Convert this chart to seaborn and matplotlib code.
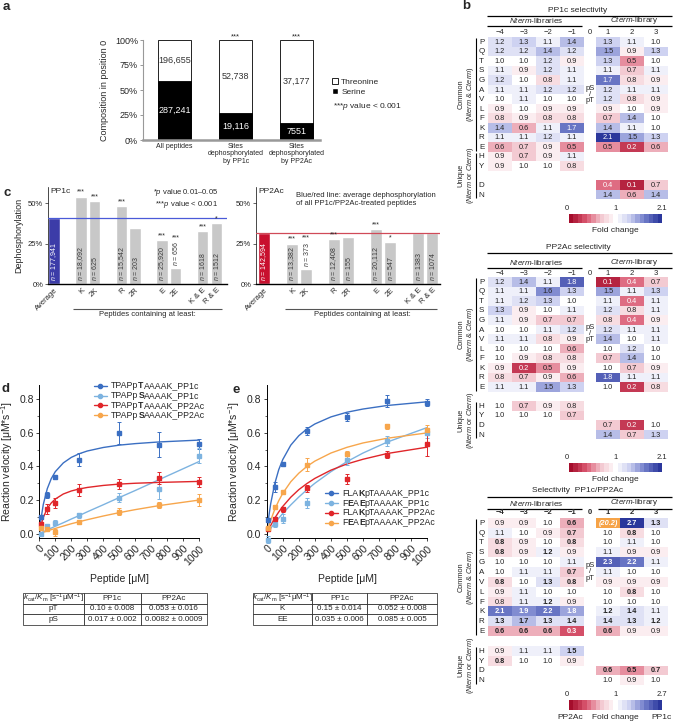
import numpy as np
import pandas as pd
import matplotlib
matplotlib.use('Agg')
import matplotlib.pyplot as plt
import seaborn as sns
from matplotlib.colors import LinearSegmentedColormap, TwoSlopeNorm
from matplotlib.lines import Line2D
from matplotlib.patches import Patch
from matplotlib.cm import ScalarMappable
from matplotlib.offsetbox import TextArea, HPacker, VPacker, DrawingArea, AnchoredOffsetbox

# ---------------- data: panel a ----------------
comp_groups = ['All peptides', 'Sites\ndephosphorylated\nby PP1c', 'Sites\ndephosphorylated\nby PP2Ac']
comp_thr = [196655, 52738, 37177]
comp_ser = [287241, 19116, 7551]
comp_sig = ['', '***', '***']

# ---------------- data: panel c ----------------
c_labels = ['Average', 'K', '2K', 'R', '2R', 'E', '2E', 'K & E', 'R & E']
c_pp1c = [40.7, 53.9, 51.4, 48.3, 34.8, 27.2, 9.7, 32.9, 37.5]
c_pp2ac = [31.3, 25.0, 9.5, 27.5, 29.0, 34.0, 26.0, 31.5, 31.5]
c_n_pp1c = ['177,941', '18,092', '625', '15,542', '203', '25,920', '656', '1618', '1512']
c_n_pp2ac = ['142,594', '13,382', '373', '12,408', '155', '20,112', '547', '1383', '1074']
c_sig_pp1c = ['', '***', '***', '***', '', '***', '***', '***', '*']
c_sig_pp2ac = ['', '***', '***', '***', '', '***', '*', '', '']

# ---------------- data: panels d / e ----------------
conc = [10, 50, 100, 250, 500, 750, 1000]
fit_conc = [0, 10, 25, 50, 75, 100, 150, 200, 250, 300, 400, 500, 600, 750, 1000]

d_pT_pp1c = [0.10, 0.23, 0.34, 0.44, 0.60, 0.53, 0.535]
d_pT_pp1c_err = [0.01, 0.015, 0.005, 0.04, 0.065, 0.075, 0.03]
d_pS_pp1c = [0.0, 0.045, 0.065, 0.11, 0.215, 0.265, 0.465]
d_pS_pp1c_err = [0.005, 0.015, 0.015, 0.015, 0.025, 0.06, 0.045]
d_pT_pp2ac = [0.055, 0.145, 0.185, 0.26, 0.295, 0.33, 0.305]
d_pT_pp2ac_err = [0.015, 0.03, 0.03, 0.035, 0.03, 0.035, 0.03]
d_pS_pp2ac = [0.035, 0.025, 0.008, 0.07, 0.13, 0.17, 0.20]
d_pS_pp2ac_err = [0.01, 0.01, 0.02, 0.01, 0.02, 0.02, 0.035]
d_fit_pT_pp1c = [0.0, 0.084, 0.174, 0.268, 0.328, 0.369, 0.421, 0.454, 0.476, 0.492, 0.513, 0.527, 0.536, 0.546, 0.557]
d_fit_pS_pp1c = [0.0, 0.004, 0.011, 0.022, 0.033, 0.044, 0.065, 0.087, 0.108, 0.13, 0.172, 0.215, 0.257, 0.322, 0.43]
d_fit_pT_pp2ac = [0.0, 0.047, 0.097, 0.150, 0.183, 0.206, 0.236, 0.254, 0.266, 0.275, 0.287, 0.295, 0.300, 0.305, 0.311]
d_fit_pS_pp2ac = [0.0, 0.003, 0.008, 0.016, 0.024, 0.031, 0.045, 0.059, 0.071, 0.083, 0.105, 0.125, 0.143, 0.167, 0.20]

e_K_pp1c = [0.08, 0.28, 0.415, 0.61, 0.695, 0.79, 0.78]
e_K_pp1c_err = [0.01, 0.03, 0.01, 0.025, 0.025, 0.035, 0.02]
e_EE_pp1c = [-0.035, 0.057, 0.09, 0.185, 0.44, 0.55, 0.60]
e_EE_pp1c_err = [0.02, 0.02, 0.025, 0.03, 0.03, 0.03, 0.03]
e_K_pp2ac = [0.025, 0.088, 0.145, 0.27, 0.325, 0.47, 0.535]
e_K_pp2ac_err = [0.01, 0.01, 0.015, 0.02, 0.03, 0.02, 0.07]
e_EE_pp2ac = [0.035, 0.16, 0.245, 0.41, 0.475, 0.64, 0.615]
e_EE_pp2ac_err = [0.01, 0.01, 0.01, 0.04, 0.015, 0.015, 0.03]
e_fit_K_pp1c = [0.0, 0.082, 0.179, 0.297, 0.381, 0.441, 0.527, 0.583, 0.623, 0.653, 0.695, 0.723, 0.742, 0.763, 0.785]
e_fit_EE_pp1c = [0.0, 0.013, 0.032, 0.063, 0.092, 0.12, 0.171, 0.218, 0.261, 0.30, 0.369, 0.429, 0.48, 0.545, 0.632]
e_fit_K_pp2ac = [0.0, 0.021, 0.049, 0.092, 0.129, 0.162, 0.217, 0.262, 0.298, 0.329, 0.378, 0.415, 0.443, 0.477, 0.515]
e_fit_EE_pp2ac = [0.0, 0.034, 0.08, 0.144, 0.196, 0.24, 0.309, 0.36, 0.40, 0.432, 0.48, 0.514, 0.54, 0.568, 0.60]

d_table = [['pT', '0.10 ± 0.008', '0.053 ± 0.016'], ['pS', '0.017 ± 0.002', '0.0082 ± 0.0009']]
e_table = [['K', '0.15 ± 0.014', '0.052 ± 0.008'], ['EE', '0.035 ± 0.006', '0.085 ± 0.005']]

# ---------------- data: panel b heatmaps ----------------
common_res = ['P', 'Q', 'T', 'S', 'G', 'A', 'V', 'L', 'F', 'K', 'R', 'E']
nterm_uniq = ['H', 'Y']
cterm_uniq = ['D', 'N']
nterm_cols = ['\u22124', '\u22123', '\u22122', '\u22121']
cterm_cols = ['1', '2', '3']

pp1c_nterm = [[1.2, 1.3, 1.1, 1.4], [1.2, 1.2, 1.4, 1.2], [1.0, 1.0, 1.2, 0.9], [1.1, 0.9, 1.2, 1.1],
              [1.2, 1.0, 0.8, 1.1], [1.1, 1.1, 1.2, 1.2], [1.0, 1.1, 1.0, 1.0], [0.9, 1.0, 0.9, 0.9],
              [0.8, 0.9, 0.8, 0.8], [1.4, 0.6, 1.1, 1.7], [1.1, 1.1, 1.2, 1.1], [0.6, 0.7, 0.9, 0.5],
              [0.9, 0.7, 0.9, 1.1], [0.9, 1.0, 1.0, 0.8]]
pp1c_cterm = [[1.3, 1.1, 1.0], [1.5, 0.9, 1.3], [1.3, 0.5, 1.0], [1.1, 0.7, 1.1], [1.7, 0.8, 0.9],
              [1.2, 1.1, 1.1], [1.2, 0.8, 0.9], [0.9, 1.0, 0.9], [0.7, 1.4, 1.0], [1.4, 1.1, 1.0],
              [2.1, 1.5, 1.3], [0.5, 0.2, 0.6], [0.4, 0.1, 0.7], [1.4, 0.6, 1.4]]

pp2ac_nterm = [[1.2, 1.4, 1.1, 1.8], [1.1, 1.1, 1.6, 1.3], [1.1, 1.2, 1.3, 1.0], [1.3, 0.9, 1.0, 1.1],
               [1.1, 0.9, 0.7, 0.7], [1.0, 1.0, 1.1, 1.2], [1.1, 1.1, 0.8, 0.9], [1.0, 1.0, 1.0, 0.6],
               [1.0, 0.9, 0.8, 0.8], [0.9, 0.2, 0.5, 0.9], [0.8, 0.7, 0.9, 0.6], [1.1, 1.1, 1.5, 1.3],
               [1.0, 0.7, 0.9, 0.8], [1.0, 1.0, 1.0, 0.7]]
pp2ac_cterm = [[0.1, 0.4, 0.7], [1.5, 1.1, 1.3], [1.1, 0.4, 1.1], [1.2, 0.8, 1.1], [0.8, 0.4, 0.9],
               [1.2, 1.1, 1.1], [1.4, 1.0, 1.1], [1.0, 1.2, 1.0], [0.7, 1.4, 1.0], [1.0, 0.7, 0.9],
               [1.8, 1.1, 1.1], [1.0, 0.2, 0.8], [0.7, 0.2, 1.0], [1.4, 0.7, 1.3]]

sel_nterm = [[0.9, 0.9, 1.0, 0.6], [1.1, 1.0, 0.9, 0.7], [0.8, 0.9, 1.0, 0.8], [0.8, 0.9, 1.2, 0.9],
             [1.0, 1.0, 1.0, 1.1], [1.0, 1.1, 1.1, 0.7], [0.8, 1.0, 1.3, 0.8], [0.9, 1.1, 1.0, 1.0],
             [0.8, 1.1, 1.2, 0.9], [2.1, 1.9, 2.2, 1.8], [1.3, 1.7, 1.3, 1.4], [0.6, 0.6, 0.6, 0.3],
             [0.9, 1.1, 1.1, 1.5], [0.8, 1.0, 1.0, 0.9]]
sel_cterm = [[20.2, 2.7, 1.3], [1.0, 0.8, 1.0], [1.0, 1.1, 1.0], [1.1, 0.9, 0.9], [2.3, 2.2, 1.1],
             [1.1, 1.0, 1.0], [0.9, 0.9, 0.9], [1.0, 0.8, 1.0], [1.0, 1.0, 1.0], [1.2, 1.4, 1.1],
             [1.4, 1.3, 1.2], [0.6, 0.9, 0.9], [0.6, 0.5, 0.7], [1.0, 0.9, 1.0]]
sel_nterm_bold = ['0001', '0001', '1001', '1010', '0000', '0001', '1011', '0000', '0010', '1111', '1111',
                  '1111', '0001', '1000']
sel_cterm_bold = ['111', '010', '000', '000', '110', '000', '000', '010', '000', '110', '111', '100',
                  '111', '000']

# ---------------- figure setup ----------------
W, H = 674, 721
sns.set_theme(style='white')
plt.rcParams['font.family'] = ['Liberation Sans', 'DejaVu Sans']
plt.rcParams['mathtext.fontset'] = 'custom'
plt.rcParams['mathtext.rm'] = 'Liberation Sans'
plt.rcParams['mathtext.it'] = 'Liberation Sans:italic'
plt.rcParams['mathtext.bf'] = 'Liberation Sans:bold'
plt.rcParams['axes.unicode_minus'] = True

fig = plt.figure(figsize=(W / 100, H / 100), dpi=100)


def fx(x):
    return x / W


def fy(y):
    return 1 - y / H


def px_axes(x0, y0, x1, y1):
    return fig.add_axes([fx(x0), fy(y1), (x1 - x0) / W, (y1 - y0) / H])


def ftext(x, y, s, **kw):
    kw.setdefault('ha', 'center')
    kw.setdefault('va', 'center')
    kw.setdefault('fontsize', 5.5)
    fig.text(fx(x), fy(y), s, **kw)


def fline(xs, ys, lw=0.8, color='black'):
    fig.add_artist(Line2D([fx(v) for v in xs], [fy(v) for v in ys], transform=fig.transFigure,
                          lw=lw, color=color, solid_capstyle='butt'))


# panel letters
for lab, x, y in [('a', 6, 7), ('b', 466, 6), ('c', 7, 193), ('d', 6, 389), ('e', 236, 390)]:
    ftext(x, y, lab, fontsize=9.5, fontweight='bold')

# ================= panel a =================
ax_a = px_axes(143, 40, 320, 140)
tot = [t + s for t, s in zip(comp_thr, comp_ser)]
df_a = pd.DataFrame({'group': comp_groups,
                     'total': [1.0] * 3,
                     'serine': [s / t for s, t in zip(comp_ser, tot)]})
sns.barplot(data=df_a, x='group', y='total', color='white', edgecolor='black', linewidth=0.6,
            width=0.54, saturation=1, ax=ax_a)
sns.barplot(data=df_a, x='group', y='serine', color='black', edgecolor='black', linewidth=0.6,
            width=0.54, saturation=1, ax=ax_a)
for i, (thr, ser, frac) in enumerate(zip(comp_thr, comp_ser, df_a['serine'])):
    ax_a.text(i, frac + (1 - frac) / 2, f'{thr:,}' if thr >= 10000 else str(thr), ha='center',
              va='center', fontsize=6.5, color='#333333')
    ax_a.text(i, frac / 2, f'{ser:,}' if ser >= 10000 else str(ser), ha='center', va='center',
              fontsize=6.5, color='white')
    ax_a.text(i, 1.0, comp_sig[i], ha='center', va='bottom', fontsize=5.5)
ax_a.set_xlim(-0.52, 2.38)
ax_a.set_ylim(0, 1)
ax_a.set_yticks([0, 0.25, 0.5, 0.75, 1.0])
ax_a.set_yticklabels(['0%', '25%', '50%', '75%', '100%'], fontsize=6.5)
ax_a.set_xticks(range(3))
ax_a.set_xticklabels(comp_groups, fontsize=5, linespacing=1.1)
ax_a.set_xlabel('')
ax_a.set_ylabel('Composition in position 0', fontsize=6.5, labelpad=4)
ax_a.tick_params(axis='y', length=2, width=0.6, color='#888888', pad=1.5, left=True)
ax_a.tick_params(axis='x', length=0, pad=2)
for sp in ['top', 'right']:
    ax_a.spines[sp].set_visible(False)
ax_a.spines['left'].set_color('#999999')
ax_a.spines['left'].set_linewidth(0.8)
ax_a.spines['bottom'].set_color('#999999')
ax_a.spines['bottom'].set_linewidth(1.8)
fig.legend(handles=[Patch(facecolor='white', edgecolor='black', lw=0.6), Patch(facecolor='black')],
           labels=['Threonine', 'Serine'], loc='upper left', bbox_to_anchor=(fx(328), fy(74)),
           frameon=False, fontsize=6, handlelength=0.7, handleheight=0.7, handletextpad=0.4,
           labelspacing=0.25, borderpad=0)
ftext(333, 106, r'***$\mathit{p}$ value < 0.001', ha='left', fontsize=6)

# ================= panel c =================
c_order = ['Average', 's1', 'K', '2K', 's2', 'R', '2R', 's3', 'E', '2E', 's4', 'K & E', 'R & E']
c_slots = [c_order.index(g) for g in c_labels]


def dephos_panel(box, values, ns, sigs, avg_color, line_color, name, xlim):
    ax = px_axes(*box)
    df = pd.DataFrame({'group': c_labels, 'value': values})
    pal = {g: (avg_color if g == 'Average' else '#c8c8c8') for g in c_labels}
    sns.barplot(data=df, x='group', y='value', hue='group', palette=pal, order=c_order,
                hue_order=c_labels, width=0.84, saturation=1, legend=False, ax=ax)
    ax.axhline(values[0], color=line_color, lw=0.9, zorder=3)
    for slot, v, n, s, g in zip(c_slots, values, ns, sigs, c_labels):
        base = 2.0 if v > 20 else v + 1.2
        ax.text(slot, base, r'$\mathit{n}$ = ' + n, rotation=90, ha='center', va='bottom',
                fontsize=5, color='white' if g == 'Average' else '#3a3a3a')
        if s:
            sy = v + 0.5 if v > 20 else v + 16.5
            ax.text(slot, sy, s, ha='center', va='bottom', fontsize=5)
    ax.set_xlim(*xlim)
    ax.set_ylim(0, 60)
    ax.set_yticks([0, 25, 50])
    ax.set_yticklabels(['0%', '25%', '50%'], fontsize=5.5)
    ax.set_xticks(c_slots)
    ax.set_xticklabels(c_labels, rotation=45, ha='right', rotation_mode='anchor', fontsize=5.5)
    ax.set_xlabel('')
    ax.set_ylabel('')
    ax.tick_params(axis='y', length=2, width=0.5, pad=1.5, left=True)
    ax.tick_params(axis='x', length=0, pad=2)
    for sp in ['top', 'right']:
        ax.spines[sp].set_visible(False)
    ax.spines['left'].set_linewidth(0.5)
    ax.spines['bottom'].set_linewidth(1.0)
    ax.spines['left'].set_color('black')
    ax.spines['bottom'].set_color('black')
    ax.text(0.012, 0.985, name, transform=ax.transAxes, ha='left', va='top', fontsize=6)
    return ax


ax_c1 = dephos_panel((48, 186.8, 227, 284), c_pp1c, c_n_pp1c, c_sig_pp1c, '#3c3ca8', '#4a5ad8',
                     'PP1c', (-0.45, 12.8))
ax_c2 = dephos_panel((256, 186.8, 440, 284), c_pp2ac, c_n_pp2ac, c_sig_pp2ac, '#c8102e', '#d04a58',
                     'PP2Ac', (-0.57, 12.55))
ax_c1.set_ylabel('Dephosphorylation', fontsize=6.5, labelpad=3)
ftext(218, 198.5, '*$\\mathit{p}$ value 0.01–0.05\n***$\\mathit{p}$ value < 0.001', ha='right',
      multialignment='right', fontsize=5.5, linespacing=1.15)
ftext(296, 199.5, 'Blue/red line: average dephosphorylation\nof all PP1c/PP2Ac-treated peptides',
      ha='left', multialignment='left', fontsize=5.5, linespacing=1.25)
fline([73, 222], [309, 309], lw=0.8, color='#555555')
ftext(147, 315, 'Peptides containing at least:', fontsize=5.5)
fline([285, 437], [309, 309], lw=0.8, color='#555555')
ftext(362, 315, 'Peptides containing at least:', fontsize=5.5)

# ================= panels d / e =================
col_dk = '#3b6fc2'
col_lt = '#7db3e0'
col_rd = '#e0262a'
col_or = '#f7a64c'


def rich_legend(ax, entries, loc, anchor, fontsize=6.3):
    # legend rows whose labels mix normal and bold letters
    rows = []
    for color, parts in entries:
        da = DrawingArea(9.5, 5, 0, 0)
        da.add_artist(Line2D([0, 9.5], [2.5, 2.5], color=color, lw=1.0))
        da.add_artist(Line2D([4.75], [2.5], color=color, marker='o', ms=3, lw=0))
        texts = [TextArea(s, textprops=dict(fontsize=fontsize,
                                            fontweight='bold' if b else 'normal'))
                 for s, b in parts]
        label = HPacker(children=texts, align='baseline', pad=0, sep=0)
        rows.append(HPacker(children=[da, label], align='center', pad=0, sep=3))
    box = VPacker(children=rows, align='left', pad=0, sep=0.6)
    anc = AnchoredOffsetbox(loc=loc, child=box, pad=0, borderpad=0, frameon=False,
                            bbox_to_anchor=anchor, bbox_transform=ax.transAxes)
    ax.add_artist(anc)


def kinetics_panel(box, series, legend_loc, legend_anchor):
    ax = px_axes(*box)
    entries = []
    for pts, errs, fit, color, parts in series:
        sns.lineplot(x=fit_conc, y=fit, color=color, lw=1.0, ax=ax)
        ax.errorbar(conc, pts, yerr=errs, fmt='s', ms=2.3, color=color, ecolor=color,
                    capsize=1.6, elinewidth=0.7, capthick=0.7, clip_on=False, zorder=4)
        entries.append((color, parts))
    ax.set_xlim(0, 1000)
    ax.set_ylim(-0.026, 0.885)
    ax.set_xticks(range(0, 1001, 100))
    ax.set_xticklabels([str(v) for v in range(0, 1001, 100)], rotation=45, ha='right',
                       rotation_mode='anchor', fontsize=7.5)
    ax.set_yticks([0.0, 0.2, 0.4, 0.6, 0.8])
    ax.set_yticklabels(['0.0', '0.2', '0.4', '0.6', '0.8'], fontsize=7.5)
    ax.set_yticks([0.1, 0.3, 0.5, 0.7], minor=True)
    ax.tick_params(axis='both', which='major', length=2.5, width=0.6, pad=1.5, left=True, bottom=True)
    ax.tick_params(axis='y', which='minor', length=1.5, width=0.5, left=True)
    for sp in ['top', 'right']:
        ax.spines[sp].set_visible(False)
    for sp in ['left', 'bottom']:
        ax.spines[sp].set_color('black')
        ax.spines[sp].set_linewidth(0.7)
    ax.set_xlabel('Peptide [μM]', fontsize=7.5, labelpad=5)
    ax.set_ylabel(r'Reaction velocity [μM*s$^{-1}$]', fontsize=7.5, labelpad=3)
    rich_legend(ax, entries, legend_loc, legend_anchor)
    return ax


ax_d = kinetics_panel((39.3, 385, 199.3, 538), [
    (d_pT_pp1c, d_pT_pp1c_err, d_fit_pT_pp1c, col_dk, [('TPAPp', 0), ('T', 1), ('AAAAK_PP1c', 0)]),
    (d_pS_pp1c, d_pS_pp1c_err, d_fit_pS_pp1c, col_lt, [('TPAPp', 0), ('S', 1), ('AAAAK_PP1c', 0)]),
    (d_pT_pp2ac, d_pT_pp2ac_err, d_fit_pT_pp2ac, col_rd, [('TPAPp', 0), ('T', 1), ('AAAAK_PP2Ac', 0)]),
    (d_pS_pp2ac, d_pS_pp2ac_err, d_fit_pS_pp2ac, col_or, [('TPAPp', 0), ('S', 1), ('AAAAK_PP2Ac', 0)]),
], 'upper left', (0.34, 1.025))

ax_e = kinetics_panel((266.7, 385, 427.3, 538), [
    (e_K_pp1c, e_K_pp1c_err, e_fit_K_pp1c, col_dk, [('FLA', 0), ('K', 1), ('pTAAAAK_PP1c', 0)]),
    (e_EE_pp1c, e_EE_pp1c_err, e_fit_EE_pp1c, col_lt,
     [('F', 0), ('E', 1), ('A', 0), ('E', 1), ('pTAAAAK_PP1c', 0)]),
    (e_K_pp2ac, e_K_pp2ac_err, e_fit_K_pp2ac, col_rd, [('FLA', 0), ('K', 1), ('pTAAAAK_PP2Ac', 0)]),
    (e_EE_pp2ac, e_EE_pp2ac_err, e_fit_EE_pp2ac, col_or,
     [('F', 0), ('E', 1), ('A', 0), ('E', 1), ('pTAAAAK_PP2Ac', 0)]),
], 'lower left', (0.36, 0.07))


def kin_table(box, rows, widths):
    ax = px_axes(*box)
    ax.axis('off')
    header = [r'$\mathit{k}_\mathrm{cat}/\mathit{K}_\mathrm{m}$ [s$^{-1}$μM$^{-1}$]', 'PP1c', 'PP2Ac']
    tb = ax.table(cellText=rows, colLabels=header, cellLoc='center', bbox=[0, 0, 1, 1],
                  colWidths=widths)
    tb.auto_set_font_size(False)
    for (r, c), cell in tb.get_celld().items():
        cell.set_linewidth(0.5)
        cell.get_text().set_fontsize(5.8)
    return ax


kin_table((23, 593, 207, 625), d_table, [0.33, 0.31, 0.36])
kin_table((253, 593, 437, 625), e_table, [0.32, 0.30, 0.38])

# ================= panel b heatmaps =================
heat_cmap = LinearSegmentedColormap.from_list(
    'fold', ['#a50d2c', '#d9566f', '#f2c4cd', '#ffffff', '#c9cdef', '#6f7cc9', '#2b379c'], N=21)
heat_cmap = heat_cmap.with_extremes(over='#f6a347')

N_X0, N_X1 = 488, 584
C_X0, C_X1 = 596, 668


def to_grid(layout, vals, uniq, ncol):
    grid = np.full((len(layout), ncol), np.nan)
    for lab, v in zip(common_res + uniq, vals):
        grid[layout.index(lab)] = v
    return grid


def to_bold(layout, flags, uniq, ncol):
    grid = np.zeros((len(layout), ncol), dtype=bool)
    for lab, f in zip(common_res + uniq, flags):
        grid[layout.index(lab)] = [ch == '1' for ch in f]
    return grid


def heat_panel(g, nterm, cterm, vmax, title, bold_n=None, bold_c=None, bold_cols=False,
               cbar_side=None):
    layout = g['layout']
    top, pitch = g['top'], g['pitch']
    bottom = top + pitch * len(layout)
    norm = TwoSlopeNorm(vmin=0, vcenter=1, vmax=vmax)
    parts = [(N_X0, N_X1, to_grid(layout, nterm, nterm_uniq, 4),
              to_bold(layout, bold_n, nterm_uniq, 4) if bold_n else None),
             (C_X0, C_X1, to_grid(layout, cterm, cterm_uniq, 3),
              to_bold(layout, bold_c, cterm_uniq, 3) if bold_c else None)]
    for x0, x1, grid, bold in parts:
        ax = px_axes(x0, top, x1, bottom)
        sns.heatmap(grid, ax=ax, cmap=heat_cmap, norm=norm, cbar=False, xticklabels=False,
                    yticklabels=False)
        ax.tick_params(length=0)
        for i in range(grid.shape[0]):
            for j in range(grid.shape[1]):
                v = grid[i, j]
                if np.isnan(v):
                    continue
                txt = f'{v:.1f}'
                white = v >= g['hi'] or v <= g['lo']
                style = 'normal'
                if v > vmax:
                    txt, white, style = f'({v:.1f})', True, 'italic'
                weight = 'bold' if (bold is not None and bold[i, j]) else 'normal'
                ax.text(j + 0.5, i + 0.55, txt, ha='center', va='center', fontsize=5.3,
                        color='white' if white else '#222222', fontweight=weight, fontstyle=style)
    # headers
    ftext(578, g['title_y'], title, fontsize=6)
    fline([487, 672], [g['title_y'] + 5.5] * 2, lw=0.9)
    ftext((N_X0 + N_X1) / 2, g['sub_y'], r'$\mathit{Nterm}$-libraries', fontsize=5.8)
    fline([N_X0 - 1, N_X1 - 2], [g['sub_y'] + 5.5] * 2, lw=0.9)
    ftext((C_X0 + C_X1) / 2 + 2, g['sub_y'], r'$\mathit{Cterm}$-library', fontsize=5.8)
    fline([C_X0 + 2, C_X1 + 4], [g['sub_y'] + 5.5] * 2, lw=0.9)
    cw_n = (N_X1 - N_X0) / 4
    cw_c = (C_X1 - C_X0) / 3
    cw = 'bold' if bold_cols else 'normal'
    for j, lab in enumerate(nterm_cols):
        ftext(N_X0 + cw_n * (j + 0.5), g['col_y'], lab, fontsize=5.5, fontweight=cw)
    ftext((N_X1 + C_X0) / 2, g['col_y'], '0', fontsize=5.5, fontweight=cw)
    for j, lab in enumerate(cterm_cols):
        ftext(C_X0 + cw_c * (j + 0.5), g['col_y'], lab, fontsize=5.5, fontweight=cw)
    # row labels
    for i, lab in enumerate(layout):
        if lab:
            ftext(481.5, top + pitch * (i + 0.55), lab, fontsize=5.8)
    ftext((N_X1 + C_X0) / 2, top + pitch * g['ps_row'], 'pS\n/\npT', fontsize=5.5, linespacing=0.85)
    # brackets
    n_common = len(common_res)
    fline([476, 476], [top + 0.1 * pitch, top + n_common * pitch - 0.1 * pitch], lw=0.8)
    u0 = min(layout.index(r) for r in nterm_uniq + cterm_uniq)
    fline([476, 476], [top + u0 * pitch + 0.1 * pitch, bottom - 0.1 * pitch], lw=0.8)
    cy = top + n_common * pitch / 2
    ftext(466.5, cy, 'Common\n' + r'($\mathit{Nterm}$ & $\mathit{Cterm}$)', rotation=90,
          fontsize=5.3, linespacing=1.05)
    uy = (top + u0 * pitch + bottom) / 2
    ftext(466.5, uy, 'Unique\n' + r'($\mathit{Nterm}$ or $\mathit{Cterm}$)', rotation=90,
          fontsize=5.3, linespacing=1.05)
    # colour bar
    b0, b1 = g['bar']
    cax = px_axes(569, b0, 662, b1)
    cb = fig.colorbar(ScalarMappable(norm=norm, cmap=heat_cmap), cax=cax, orientation='horizontal')
    cb.outline.set_visible(False)
    cax.set_xticks([])
    ftext(567, b0 - 6, '0', fontsize=5.5)
    ftext(615.5, b0 - 6, '1', fontsize=5.5)
    ftext(662, b0 - 6, f'{vmax:.1f}', fontsize=5.5)
    ftext(615.5, b1 + 7.5, 'Fold change', fontsize=6)
    if cbar_side:
        ftext(570, b1 + 7.5, cbar_side[0], fontsize=6)
        ftext(662, b1 + 7.5, cbar_side[1], fontsize=6)


layout_pp1c = common_res + ['H', 'Y', '', 'D', 'N']
layout_std = common_res + ['', 'H', 'Y', 'D', 'N']

heat_panel(dict(layout=layout_pp1c, top=37, pitch=9.55, title_y=10, sub_y=20.5, col_y=32.5,
                ps_row=6.0, bar=(214, 223), hi=1.7, lo=0.4),
           pp1c_nterm, pp1c_cterm, 2.1, 'PP1c selectivity')
heat_panel(dict(layout=layout_std, top=277, pitch=9.55, title_y=247, sub_y=262, col_y=273,
                ps_row=5.9, bar=(463, 472), hi=1.7, lo=0.4),
           pp2ac_nterm, pp2ac_cterm, 2.1, 'PP2Ac selectivity')
heat_panel(dict(layout=layout_std, top=517.8, pitch=9.85, title_y=491, sub_y=503, col_y=513,
                ps_row=5.5, bar=(700, 710), hi=1.8, lo=0.3),
           sel_nterm, sel_cterm, 2.7, 'Selectivity  PP1c/PP2Ac', bold_n=sel_nterm_bold,
           bold_c=sel_cterm_bold, bold_cols=True, cbar_side=('PP2Ac', 'PP1c'))

fig.savefig('out.png', dpi=100)
